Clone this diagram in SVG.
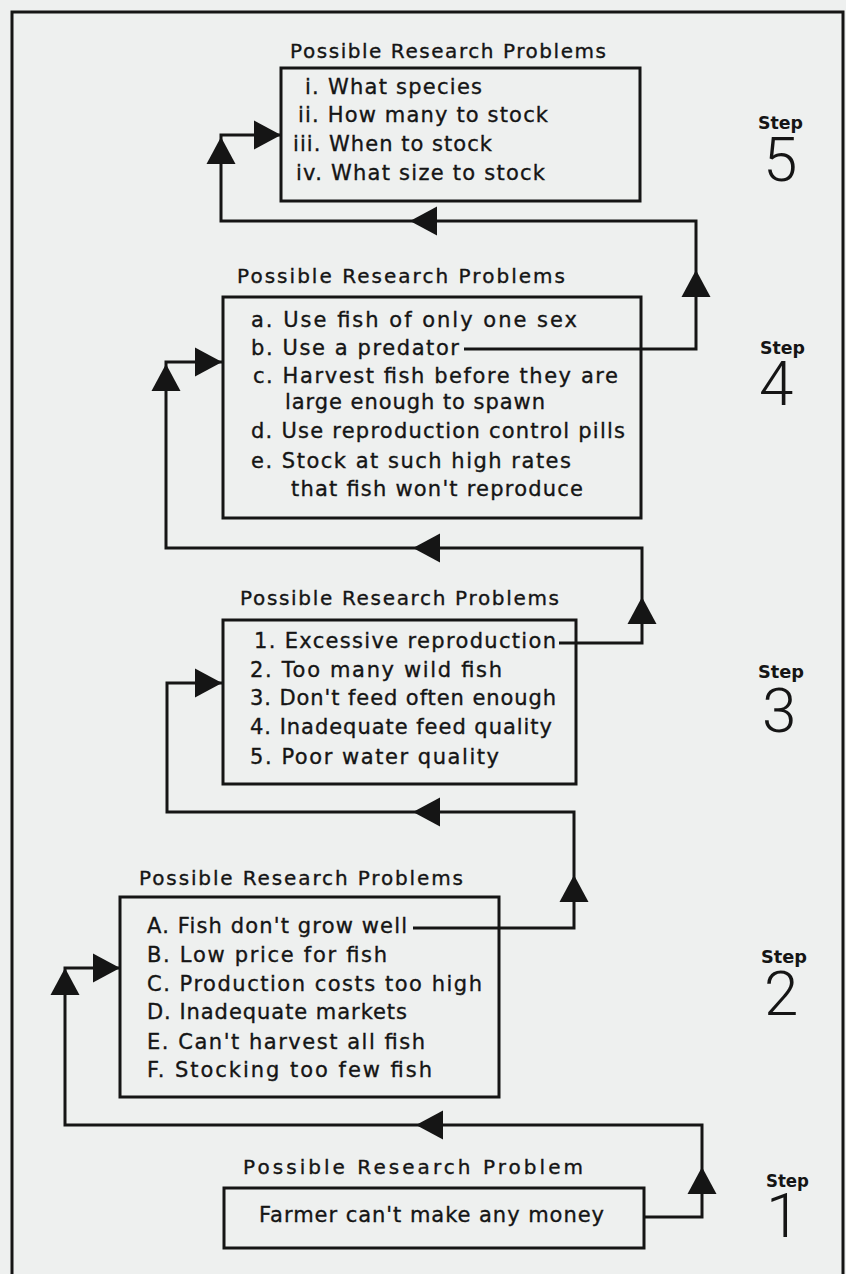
<svg xmlns="http://www.w3.org/2000/svg" xmlns:xlink="http://www.w3.org/1999/xlink" width="846" height="1274" viewBox="0 0 846 1274">
<style>
.bg{fill:#eef0ef}
.frame{fill:none;stroke:#151515;stroke-width:3}
.box{fill:none;stroke:#151515;stroke-width:3}
.ln{fill:none;stroke:#151515;stroke-width:3;stroke-linejoin:miter}
.ah{fill:#151515}
.t{font-family:"DejaVu Sans","Liberation Sans",sans-serif;font-size:20px;fill:#151515;stroke:#151515;stroke-width:0.35}
.it{font-family:"DejaVu Sans","Liberation Sans",sans-serif;font-size:21px;fill:#151515;stroke:#151515;stroke-width:0.35}
.st{font-family:"DejaVu Sans","Liberation Sans",sans-serif;font-size:17px;font-weight:bold;fill:#151515}
.num{font-family:Roboto,Inter,"DejaVu Sans",sans-serif;font-size:62px;font-weight:300;fill:#151515}
</style>
<defs>
<path id="ah" d="M0,0 L14.5,27 L-14.5,27 Z"/>
</defs>
<rect class="bg" x="0" y="0" width="846" height="1274"/>
<path class="frame" d="M12,1276 V12 H843 V1276"/>

<g id="connectors">
<path class="ln" d="M644,1217 H702 V1125 H65 V968 H120"/>
<use xlink:href="#ah" class="ah" transform="translate(702,1167)"/>
<use xlink:href="#ah" class="ah" transform="translate(416,1125) rotate(-90)"/>
<use xlink:href="#ah" class="ah" transform="translate(65,968)"/>
<use xlink:href="#ah" class="ah" transform="translate(120,968) rotate(90)"/>

<path class="ln" d="M413,928 H574 V812 H167 V683 H223"/>
<use xlink:href="#ah" class="ah" transform="translate(574,875)"/>
<use xlink:href="#ah" class="ah" transform="translate(413,812) rotate(-90)"/>
<use xlink:href="#ah" class="ah" transform="translate(222,683) rotate(90)"/>

<path class="ln" d="M559,643 H642 V548 H166 V362 H223"/>
<use xlink:href="#ah" class="ah" transform="translate(642,597)"/>
<use xlink:href="#ah" class="ah" transform="translate(413,548) rotate(-90)"/>
<use xlink:href="#ah" class="ah" transform="translate(166,364)"/>
<use xlink:href="#ah" class="ah" transform="translate(222,362) rotate(90)"/>

<path class="ln" d="M464,349 H696 V221 H221 V135 H281"/>
<use xlink:href="#ah" class="ah" transform="translate(696,270)"/>
<use xlink:href="#ah" class="ah" transform="translate(410,221) rotate(-90)"/>
<use xlink:href="#ah" class="ah" transform="translate(221,137)"/>
<use xlink:href="#ah" class="ah" transform="translate(281,135) rotate(90)"/>
</g>

<g id="step5">
<text class="t" x="290" y="58" textLength="316" lengthAdjust="spacing">Possible Research Problems</text>
<rect class="box" x="281" y="68" width="359" height="133"/>
<text class="it" x="305" y="94" textLength="177" lengthAdjust="spacing">i. What species</text>
<text class="it" x="298" y="122" textLength="250" lengthAdjust="spacing">ii. How many to stock</text>
<text class="it" x="293" y="151" textLength="199" lengthAdjust="spacing">iii. When to stock</text>
<text class="it" x="296" y="180" textLength="249" lengthAdjust="spacing">iv. What size to stock</text>
<text class="st" x="758" y="129" textLength="45" lengthAdjust="spacingAndGlyphs">Step</text>
<text class="num" x="763" y="181">5</text>
</g>

<g id="step4">
<text class="t" x="237" y="283" textLength="328" lengthAdjust="spacing">Possible Research Problems</text>
<rect class="box" x="223" y="297" width="418" height="221"/>
<text class="it" x="251" y="327" textLength="326" lengthAdjust="spacing">a. Use fish of only one sex</text>
<text class="it" x="251" y="355" textLength="208" lengthAdjust="spacing">b. Use a predator</text>
<text class="it" x="253" y="383" textLength="365" lengthAdjust="spacing">c. Harvest fish before they are</text>
<text class="it" x="285" y="409" textLength="260" lengthAdjust="spacing">large enough to spawn</text>
<text class="it" x="251" y="438" textLength="374" lengthAdjust="spacing">d. Use reproduction control pills</text>
<text class="it" x="251" y="468" textLength="320" lengthAdjust="spacing">e. Stock at such high rates</text>
<text class="it" x="291" y="496" textLength="292" lengthAdjust="spacing">that fish won't reproduce</text>
<text class="st" x="760" y="354" textLength="45" lengthAdjust="spacingAndGlyphs">Step</text>
<text class="num" x="759" y="405">4</text>
</g>

<g id="step3">
<text class="t" x="240" y="605" textLength="319" lengthAdjust="spacing">Possible Research Problems</text>
<rect class="box" x="223" y="620" width="353" height="164"/>
<text class="it" x="254" y="648" textLength="302" lengthAdjust="spacing">1. Excessive reproduction</text>
<text class="it" x="250" y="677" textLength="252" lengthAdjust="spacing">2. Too many wild fish</text>
<text class="it" x="250" y="705" textLength="306" lengthAdjust="spacing">3. Don't feed often enough</text>
<text class="it" x="250" y="734" textLength="302" lengthAdjust="spacing">4. Inadequate feed quality</text>
<text class="it" x="250" y="764" textLength="249" lengthAdjust="spacing">5. Poor water quality</text>
<text class="st" x="758" y="678" textLength="46" lengthAdjust="spacingAndGlyphs">Step</text>
<text class="num" x="762" y="732">3</text>
</g>

<g id="step2">
<text class="t" x="139" y="885" textLength="324" lengthAdjust="spacing">Possible Research Problems</text>
<rect class="box" x="120" y="897" width="379" height="200"/>
<text class="it" x="147" y="933" textLength="260" lengthAdjust="spacing">A. Fish don't grow well</text>
<text class="it" x="147" y="962" textLength="240" lengthAdjust="spacing">B. Low price for fish</text>
<text class="it" x="147" y="991" textLength="335" lengthAdjust="spacing">C. Production costs too high</text>
<text class="it" x="147" y="1019" textLength="260" lengthAdjust="spacing">D. Inadequate markets</text>
<text class="it" x="147" y="1049" textLength="278" lengthAdjust="spacing">E. Can't harvest all fish</text>
<text class="it" x="147" y="1077" textLength="285" lengthAdjust="spacing">F. Stocking too few fish</text>
<text class="st" x="761" y="963" textLength="46" lengthAdjust="spacingAndGlyphs">Step</text>
<text class="num" x="764" y="1015">2</text>
</g>

<g id="step1">
<text class="t" x="243" y="1174" textLength="340" lengthAdjust="spacing">Possible Research Problem</text>
<rect class="box" x="224" y="1188" width="420" height="60"/>
<text class="it" x="259" y="1222" textLength="345" lengthAdjust="spacing">Farmer can't make any money</text>
<text class="st" x="766" y="1187" textLength="43" lengthAdjust="spacingAndGlyphs">Step</text>
<text class="num" x="766" y="1237">1</text>
</g>
</svg>
